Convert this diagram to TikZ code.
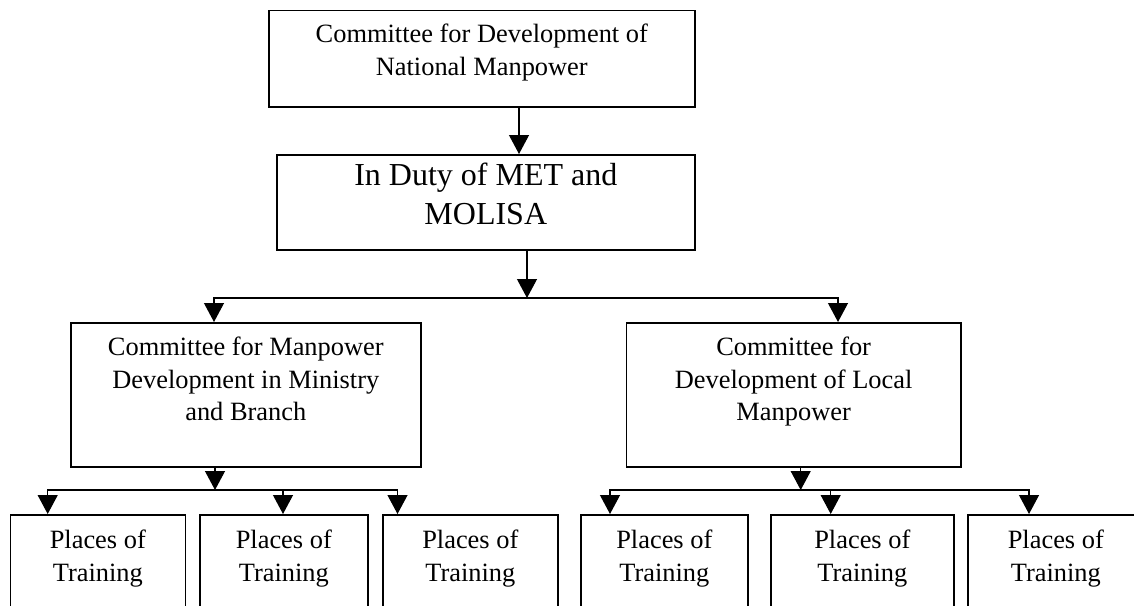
\documentclass[tikz,border=0pt]{standalone}
\usepackage{fontspec}
\setmainfont{Liberation Serif}
\usetikzlibrary{arrows.meta}

% boxed, top-aligned, centred lines of text
\newcommand{\boxlines}[4]{%
  \parbox[t][#2][t]{#1}{\centering\rule{0pt}{#3}#4}}

\tikzset{
  orgbox/.style={draw, line width=1.6pt, inner sep=0pt, anchor=north west,
                 font=\fontsize{26.4}{32.5}\selectfont},
  bigbox/.style={orgbox, font=\fontsize{32}{39}\selectfont},
  conn/.style={line width=1.2pt, line join=miter},
  arr/.style={conn, -{Triangle[width=20pt,length=19pt]}}
}

\begin{document}
\begin{tikzpicture}[x=1pt, y=-1pt]
  \useasboundingbox (0,0) rectangle (1134,605);
  \clip (0,0) rectangle (1134,605);

  % top levels
  \node[orgbox] (top) at (268,9.7)
    {\boxlines{426pt}{96.3pt}{32.3pt}{Committee for Development of\\National Manpower}};
  \node[bigbox] (mid) at (276,154)
    {\boxlines{418pt}{95pt}{31pt}{In Duty of MET and\\MOLISA}};

  % committees
  \node[orgbox] (cl) at (70,322)
    {\boxlines{350pt}{144pt}{33pt}{Committee for Manpower\\Development in Ministry\\and Branch}};
  \node[orgbox] (cr) at (625.7,322)
    {\boxlines{334.3pt}{144pt}{33pt}{Committee for\\Development of Local\\Manpower}};

  % places of training
  \node[orgbox] (l1) at (9.5,514) {\boxlines{175pt}{110pt}{33.7pt}{Places of\\Training}};
  \node[orgbox] (l2) at (199,514) {\boxlines{168pt}{110pt}{33.7pt}{Places of\\Training}};
  \node[orgbox] (l3) at (382,514) {\boxlines{175pt}{110pt}{33.7pt}{Places of\\Training}};
  \node[orgbox] (r1) at (580,514) {\boxlines{167pt}{110pt}{33.7pt}{Places of\\Training}};
  \node[orgbox] (r2) at (770,514) {\boxlines{183pt}{110pt}{33.7pt}{Places of\\Training}};
  \node[orgbox] (r3) at (967,514) {\boxlines{176pt}{110pt}{33.7pt}{Places of\\Training}};

  % branch points of the connectors
  \coordinate (t1) at (519,0);
  \coordinate (busA) at (527,298);
  \coordinate (busL) at (214,298);
  \coordinate (busR) at (838,298);
  \coordinate (cl1) at (215,490);
  \coordinate (cla) at (47.7,490);
  \coordinate (clb) at (283,490);
  \coordinate (clc) at (397.5,490);
  \coordinate (cr1) at (800.7,490);
  \coordinate (cra) at (610,490);
  \coordinate (crb) at (830.7,490);
  \coordinate (crc) at (1029,490);

  % connectors
  \draw[arr] (top.south -| t1) -- (mid.north -| t1);
  \draw[arr] (mid.south -| busA) -- (busA);
  \draw[arr] (busR) -- (busL) -- (cl.north -| busL);
  \draw[arr] (busL) -- (busR) -- (cr.north -| busR);

  \draw[arr] (cl.south -| cl1) -- (cl1);
  \draw[arr] (clc) -- (cla) -- (l1.north -| cla);
  \draw[arr] (clb) -- (l2.north -| clb);
  \draw[arr] (cla) -- (clc) -- (l3.north -| clc);

  \draw[arr] (cr.south -| cr1) -- (cr1);
  \draw[arr] (crc) -- (cra) -- (r1.north -| cra);
  \draw[arr] (crb) -- (r2.north -| crb);
  \draw[arr] (cra) -- (crc) -- (r3.north -| crc);
\end{tikzpicture}
\end{document}
